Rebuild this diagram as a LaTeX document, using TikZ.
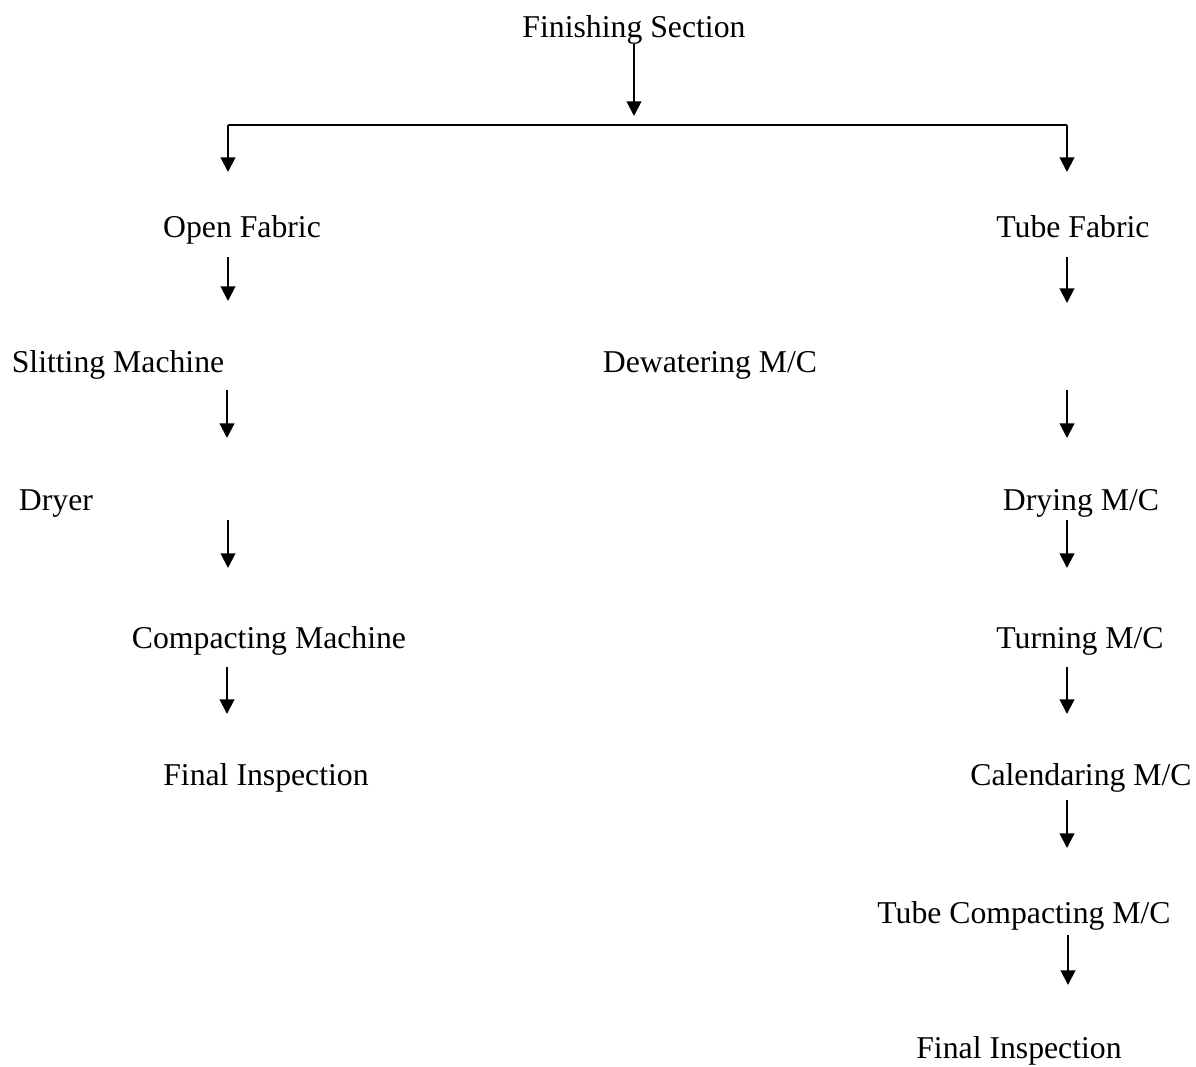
\documentclass[tikz,border=0pt]{standalone}
\usepackage{fontspec}
\setmainfont{Liberation Serif}
\usetikzlibrary{arrows.meta}
\begin{document}
\begin{tikzpicture}[x=0.75pt,y=-0.75pt,
  lbl/.style={anchor=base,inner sep=0pt,font=\fontsize{23.8}{28}\selectfont},
  arr/.style={line width=1.5pt,-{Triangle[length=11pt,width=11pt]}},
  bar/.style={line width=1.2pt}]
\useasboundingbox (0,0) rectangle (1196,1067);
% labels
\node[lbl] (fs)  at (634,37)  {Finishing Section};
\node[lbl] (of)  at (242,237) {Open Fabric};
\node[lbl] (tf)  at (1073,237) {Tube Fabric};
\node[lbl] (sm)  at (118,372) {Slitting Machine};
\node[lbl] (dw)  at (710,372) {Dewatering M/C};
\node[lbl] (dr)  at (56,510)  {Dryer};
\node[lbl] (dm)  at (1081,510) {Drying M/C};
\node[lbl] (cm)  at (269,648) {Compacting Machine};
\node[lbl] (tm)  at (1080,648) {Turning M/C};
\node[lbl] (fl)  at (266,785) {Final Inspection};
\node[lbl] (cal) at (1081,785) {Calendaring M/C};
\node[lbl] (tc)  at (1024,923) {Tube Compacting M/C};
\node[lbl] (fr)  at (1019,1058) {Final Inspection};
% coordinates
\coordinate (a0s) at (634,44);  \coordinate (a0e) at (634,116);
\coordinate (hl) at (228,125);  \coordinate (hr) at (1067,125);
\coordinate (hlb) at (228,172); \coordinate (hrb) at (1067,172);
\coordinate (l1s) at (228,257); \coordinate (l1e) at (228,301);
\coordinate (r1s) at (1067,257); \coordinate (r1e) at (1067,303);
\coordinate (l2s) at (227,390); \coordinate (l2e) at (227,438);
\coordinate (r2s) at (1067,390); \coordinate (r2e) at (1067,438);
\coordinate (l3s) at (228,520); \coordinate (l3e) at (228,568);
\coordinate (r3s) at (1067,520); \coordinate (r3e) at (1067,568);
\coordinate (l4s) at (227,667); \coordinate (l4e) at (227,714);
\coordinate (r4s) at (1067,667); \coordinate (r4e) at (1067,714);
\coordinate (r5s) at (1067,800); \coordinate (r5e) at (1067,848);
\coordinate (r6s) at (1068,935); \coordinate (r6e) at (1068,985);
% connectors
\draw[arr] (a0s) -- (a0e);
\draw[bar] (hl) -- (hr);
\draw[arr] (hl) -- (hlb);
\draw[arr] (hr) -- (hrb);
\draw[arr] (l1s) -- (l1e);
\draw[arr] (r1s) -- (r1e);
\draw[arr] (l2s) -- (l2e);
\draw[arr] (r2s) -- (r2e);
\draw[arr] (l3s) -- (l3e);
\draw[arr] (r3s) -- (r3e);
\draw[arr] (l4s) -- (l4e);
\draw[arr] (r4s) -- (r4e);
\draw[arr] (r5s) -- (r5e);
\draw[arr] (r6s) -- (r6e);
\end{tikzpicture}
\end{document}
